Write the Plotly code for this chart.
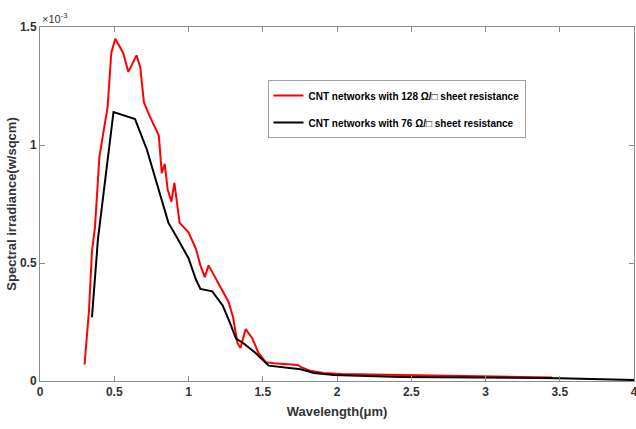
import plotly.graph_objects as go

# Wavelength (µm) and spectral irradiance (x10^-3 W/sqcm)
x_red = [0.30, 0.33, 0.35, 0.37, 0.40, 0.42, 0.455, 0.48, 0.507, 0.56, 0.595, 0.65, 0.675,
         0.70, 0.74, 0.80, 0.82, 0.84, 0.86, 0.885, 0.905, 0.94, 1.00, 1.05, 1.08, 1.11,
         1.135, 1.20, 1.27, 1.30, 1.33, 1.35, 1.385, 1.43, 1.47, 1.52, 1.575, 1.735,
         1.755, 1.82, 1.91, 2.03, 2.43, 3.0, 3.45]
y_red = [0.07, 0.30, 0.55, 0.65, 0.95, 1.02, 1.16, 1.39, 1.45, 1.39, 1.31, 1.38, 1.33,
         1.18, 1.12, 1.04, 0.88, 0.92, 0.81, 0.76, 0.84, 0.67, 0.63, 0.56, 0.49, 0.44,
         0.49, 0.415, 0.335, 0.27, 0.16, 0.14, 0.22, 0.18, 0.12, 0.08, 0.075, 0.068,
         0.06, 0.043, 0.034, 0.03, 0.025, 0.019, 0.015]

x_black = [0.35, 0.39, 0.495, 0.575, 0.64, 0.72, 0.865, 0.93, 1.00, 1.05, 1.08, 1.16,
           1.23, 1.28, 1.32, 1.37, 1.45, 1.54, 1.755, 1.845, 1.98, 2.43, 3.0, 3.5, 4.0]
y_black = [0.27, 0.60, 1.14, 1.125, 1.11, 0.98, 0.67, 0.60, 0.52, 0.43, 0.39, 0.38,
           0.32, 0.245, 0.18, 0.16, 0.12, 0.065, 0.05, 0.034, 0.025, 0.017, 0.014, 0.012, 0.004]

x_ticks = [0, 0.5, 1, 1.5, 2, 2.5, 3, 3.5, 4]
x_ticklabels = ["0", "0.5", "1", "1.5", "2", "2.5", "3", "3.5", "4"]
y_ticks = [0, 0.5, 1, 1.5]
y_ticklabels = ["0", "0.5", "1", "1.5"]

name_red = "CNT networks with 128 Ω/□ sheet resistance"
name_black = "CNT networks with 76 Ω/□ sheet resistance"

font_main = "Liberation Sans Narrow, Arial Narrow, Liberation Sans, Arial, sans-serif"

fig = go.Figure()
fig.add_trace(go.Scatter(x=x_red, y=y_red, mode="lines", name=name_red, legendgroup="a",
                         line=dict(color="#ff0000", width=2)))
fig.add_trace(go.Scatter(x=x_black, y=y_black, mode="lines", name=name_black, legendgroup="b",
                         line=dict(color="#000000", width=2)))

axis_common = dict(showgrid=False, zeroline=False, showline=True, linecolor="#8c8c8c",
                   linewidth=1, mirror="ticks", ticks="inside", ticklen=5,
                   tickcolor="#8c8c8c", automargin=False, ticklabeloverflow="allow",
                   tickfont=dict(family=font_main, size=12, color="#333333", weight="bold"))

fig.update_layout(
    width=636, height=429,
    margin=dict(l=40, r=2, t=27, b=48),
    plot_bgcolor="white", paper_bgcolor="white",
    font=dict(family=font_main, color="#333333"),
    xaxis=dict(range=[0, 4], tickvals=x_ticks, ticktext=x_ticklabels,
               title=dict(text="<b>Wavelength(μm)</b>", font=dict(size=13, color="#333333"),
                          standoff=8),
               **axis_common),
    yaxis=dict(range=[0, 1.5], tickvals=y_ticks, ticktext=y_ticklabels,
               title=dict(text="<b>Spectral irradiance(w/sqcm)</b>",
                          font=dict(family="Liberation Sans, Arial, sans-serif", size=13,
                                    color="#333333"),
                          standoff=0),
               **axis_common),
    legend=dict(x=0.383, y=0.85, xanchor="left", yanchor="top",
                bgcolor="white", bordercolor="#a0a0a0", borderwidth=1,
                font=dict(family=font_main, size=10, color="#000000", weight="bold"),
                itemwidth=30, tracegroupgap=8),
    showlegend=True,
)

fig.add_annotation(x=0, y=1, xref="paper", yref="paper", xanchor="left", yanchor="bottom",
                   text="×10<sup>-3</sup>", showarrow=False,
                   font=dict(family=font_main, size=11, color="#333333"))

fig.write_html("out.html")
